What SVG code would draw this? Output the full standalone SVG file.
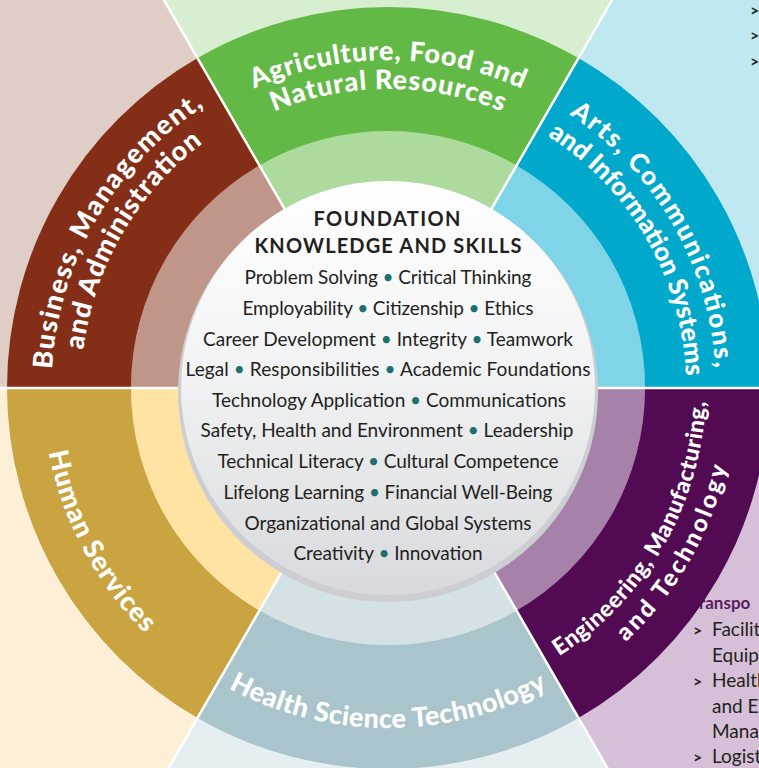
<svg xmlns="http://www.w3.org/2000/svg" width="759" height="768" viewBox="0 0 759 768">
<defs>
<style>
.lbl{font-family:Lato,"Open Sans","Liberation Sans",sans-serif;font-weight:900;fill:#ffffff;}
.body{font-family:Lato,"Liberation Sans",sans-serif;font-size:19px;fill:#231f20;text-anchor:middle;}
.hdr{font-family:Lato,"Liberation Sans",sans-serif;font-weight:700;font-size:20px;fill:#231f20;text-anchor:middle;}
.dot{fill:#1d6f71;}
.side{font-family:Lato,"Liberation Sans",sans-serif;font-size:19px;fill:#231f20;}
.chev{font-family:Lato,"Liberation Sans",sans-serif;font-size:16px;font-weight:700;fill:#231f20;}
.sep{stroke:#ffffff;stroke-width:2.5;}
</style>
<linearGradient id="cg" x1="0" y1="0" x2="0" y2="1">
<stop offset="0" stop-color="#ffffff"/>
<stop offset="0.45" stop-color="#f2f3f4"/>
<stop offset="1" stop-color="#d8d9dc"/>
</linearGradient>
<path id="pAgri1" d="M 60 388 A 328 328 0 0 1 716 388"/>
<path id="pAgri2" d="M 89 388 A 299 299 0 0 1 687 388"/>
<path id="pArts1" d="M 224 103.94 A 328 328 0 0 1 552 672.06"/>
<path id="pArts2" d="M 238.5 129.06 A 299 299 0 0 1 537.5 646.94"/>
<path id="pBus1" d="M 219.5 679.85 A 337 337 0 0 1 556.5 96.15"/>
<path id="pBus2" d="M 234.5 653.87 A 307 307 0 0 1 541.5 122.13"/>
<path id="pEng1" d="M 229 663.4 A 318 318 0 0 0 547 112.6"/>
<path id="pEng2" d="M 214 689.4 A 348 348 0 0 0 562 86.6"/>
<path id="pHealth" d="M 48 388 A 340 340 0 0 0 728 388"/>
<path id="pHuman" d="M 223.7 79 A 350 350 0 0 0 552.3 697"/>
</defs>

<g id="background">
<polygon points="388,388 888,-478 1388,388" fill="#bfe8f1"/>
<polygon points="388,388 1388,388 888,1254" fill="#d5c0d8"/>
<polygon points="388,388 888,1254 -112,1254" fill="#e5eef0"/>
<polygon points="388,388 -112,1254 -612,388" fill="#fef0d7"/>
<polygon points="388,388 -612,388 -112,-478" fill="#e0cdc6"/>
<polygon points="388,388 -112,-478 888,-478" fill="#d8eed0"/>
</g>

<g id="side-lists">
<text class="chev" x="750" y="16">&gt;</text>
<text class="chev" x="750" y="41">&gt;</text>
<text class="chev" x="750" y="67">&gt;</text>
<text x="699" y="609" font-family="Lato, 'Liberation Sans', sans-serif" font-size="17" font-weight="700" fill="#5b1c5e">ranspo</text>
<text class="chev" x="693" y="636">&gt;</text>
<text class="side" x="712" y="636">Facilit</text>
<text class="side" x="712" y="662">Equip</text>
<text class="chev" x="693" y="687">&gt;</text>
<text class="side" x="712" y="687">Health</text>
<text class="side" x="712" y="713">and E</text>
<text class="side" x="712" y="738">Mana</text>
<text class="chev" x="693" y="763">&gt;</text>
<text class="side" x="712" y="763">Logist</text>
</g>

<g id="arts">
<path d="M 388 388 L 516.5 165.43 A 257 257 0 0 1 645 388 Z" fill="#80d4e8"/>
<path d="M 578.5 58.04 A 381 381 0 0 1 769 388 L 645 388 A 257 257 0 0 0 516.5 165.43 Z" fill="#00a9cc"/>
</g>
<g id="engineering">
<path d="M 388 388 L 645 388 A 257 257 0 0 1 516.5 610.57 Z" fill="#a681a9"/>
<path d="M 769 388 A 381 381 0 0 1 578.5 717.96 L 516.5 610.57 A 257 257 0 0 0 645 388 Z" fill="#520a52"/>
</g>
<g id="health">
<path d="M 388 388 L 516.5 610.57 A 257 257 0 0 1 259.5 610.57 Z" fill="#d4e1e5"/>
<path d="M 578.5 717.96 A 381 381 0 0 1 197.5 717.96 L 259.5 610.57 A 257 257 0 0 0 516.5 610.57 Z" fill="#a9c4cb"/>
</g>
<g id="human-services">
<path d="M 388 388 L 259.5 610.57 A 257 257 0 0 1 131 388 Z" fill="#fee3a3"/>
<path d="M 197.5 717.96 A 381 381 0 0 1 7 388 L 131 388 A 257 257 0 0 0 259.5 610.57 Z" fill="#c9a441"/>
</g>
<g id="business">
<path d="M 388 388 L 131 388 A 257 257 0 0 1 259.5 165.43 Z" fill="#c0968b"/>
<path d="M 7 388 A 381 381 0 0 1 197.5 58.04 L 259.5 165.43 A 257 257 0 0 0 131 388 Z" fill="#842e17"/>
</g>
<g id="agriculture">
<path d="M 388 388 L 259.5 165.43 A 257 257 0 0 1 516.5 165.43 Z" fill="#acdb9d"/>
<path d="M 197.5 58.04 A 381 381 0 0 1 578.5 58.04 L 516.5 165.43 A 257 257 0 0 0 259.5 165.43 Z" fill="#62b946"/>
</g>

<g id="connectors">
<line class="sep" x1="388" y1="388" x2="1388" y2="388"/>
<line class="sep" x1="388" y1="388" x2="888" y2="1254"/>
<line class="sep" x1="388" y1="388" x2="-112" y2="1254"/>
<line class="sep" x1="388" y1="388" x2="-612" y2="388"/>
<line class="sep" x1="388" y1="388" x2="-112" y2="-478"/>
<line class="sep" x1="388" y1="388" x2="888" y2="-478"/>
</g>

<g id="labels">
<text class="lbl" font-size="27"><textPath href="#pAgri1" startOffset="50%" text-anchor="middle" textLength="276" lengthAdjust="spacing">Agriculture, Food and</textPath></text>
<text class="lbl" font-size="27"><textPath href="#pAgri2" startOffset="50%" text-anchor="middle" textLength="234" lengthAdjust="spacing">Natural Resources</textPath></text>
<text class="lbl" font-size="26"><textPath href="#pArts1" startOffset="50%" text-anchor="middle" textLength="303" lengthAdjust="spacing">Arts, Communications,</textPath></text>
<text class="lbl" font-size="26"><textPath href="#pArts2" startOffset="50%" text-anchor="middle" textLength="288" lengthAdjust="spacing">and Information Systems</textPath></text>
<text class="lbl" font-size="27"><textPath href="#pBus1" startOffset="50%" text-anchor="middle" textLength="315" lengthAdjust="spacing">Business, Management,</textPath></text>
<text class="lbl" font-size="27"><textPath href="#pBus2" startOffset="50%" text-anchor="middle" textLength="245" lengthAdjust="spacing">and Administration</textPath></text>
<text class="lbl" font-size="23"><textPath href="#pEng1" startOffset="50%" text-anchor="middle" textLength="305" lengthAdjust="spacing">Engineering, Manufacturing,</textPath></text>
<text class="lbl" font-size="24"><textPath href="#pEng2" startOffset="50%" text-anchor="middle" textLength="205" lengthAdjust="spacing">and Technology</textPath></text>
<text class="lbl" font-size="27"><textPath href="#pHealth" startOffset="50%" text-anchor="middle" textLength="332" lengthAdjust="spacing">Health Science Technology</textPath></text>
<text class="lbl" font-size="27"><textPath href="#pHuman" startOffset="50%" text-anchor="middle" textLength="208" lengthAdjust="spacing">Human Services</textPath></text>
</g>

<g id="foundation">
<circle cx="388" cy="392" r="210" fill="#cdced1"/>
<circle cx="388" cy="388" r="207" fill="url(#cg)"/>
<text class="hdr" x="387" y="226" textLength="147" lengthAdjust="spacing">FOUNDATION</text>
<text class="hdr" x="388" y="253" textLength="267" lengthAdjust="spacing">KNOWLEDGE AND SKILLS</text>
<text class="body" x="388" y="284" textLength="287" lengthAdjust="spacing">Problem Solving <tspan class="dot">•</tspan> Critical Thinking</text>
<text class="body" x="388" y="315" textLength="291" lengthAdjust="spacing">Employability <tspan class="dot">•</tspan> Citizenship <tspan class="dot">•</tspan> Ethics</text>
<text class="body" x="388" y="346" textLength="370" lengthAdjust="spacing">Career Development <tspan class="dot">•</tspan> Integrity <tspan class="dot">•</tspan> Teamwork</text>
<text class="body" x="388" y="376" textLength="405" lengthAdjust="spacing">Legal <tspan class="dot">•</tspan> Responsibilities <tspan class="dot">•</tspan> Academic Foundations</text>
<text class="body" x="389" y="407" textLength="354" lengthAdjust="spacing">Technology Application <tspan class="dot">•</tspan> Communications</text>
<text class="body" x="387" y="437" textLength="373" lengthAdjust="spacing">Safety, Health and Environment <tspan class="dot">•</tspan> Leadership</text>
<text class="body" x="388" y="468" textLength="341" lengthAdjust="spacing">Technical Literacy <tspan class="dot">•</tspan> Cultural Competence</text>
<text class="body" x="388" y="499" textLength="329" lengthAdjust="spacing">Lifelong Learning <tspan class="dot">•</tspan> Financial Well-Being</text>
<text class="body" x="388" y="530" textLength="287" lengthAdjust="spacing">Organizational and Global Systems</text>
<text class="body" x="388" y="560" textLength="189" lengthAdjust="spacing">Creativity <tspan class="dot">•</tspan> Innovation</text>
</g>
</svg>
